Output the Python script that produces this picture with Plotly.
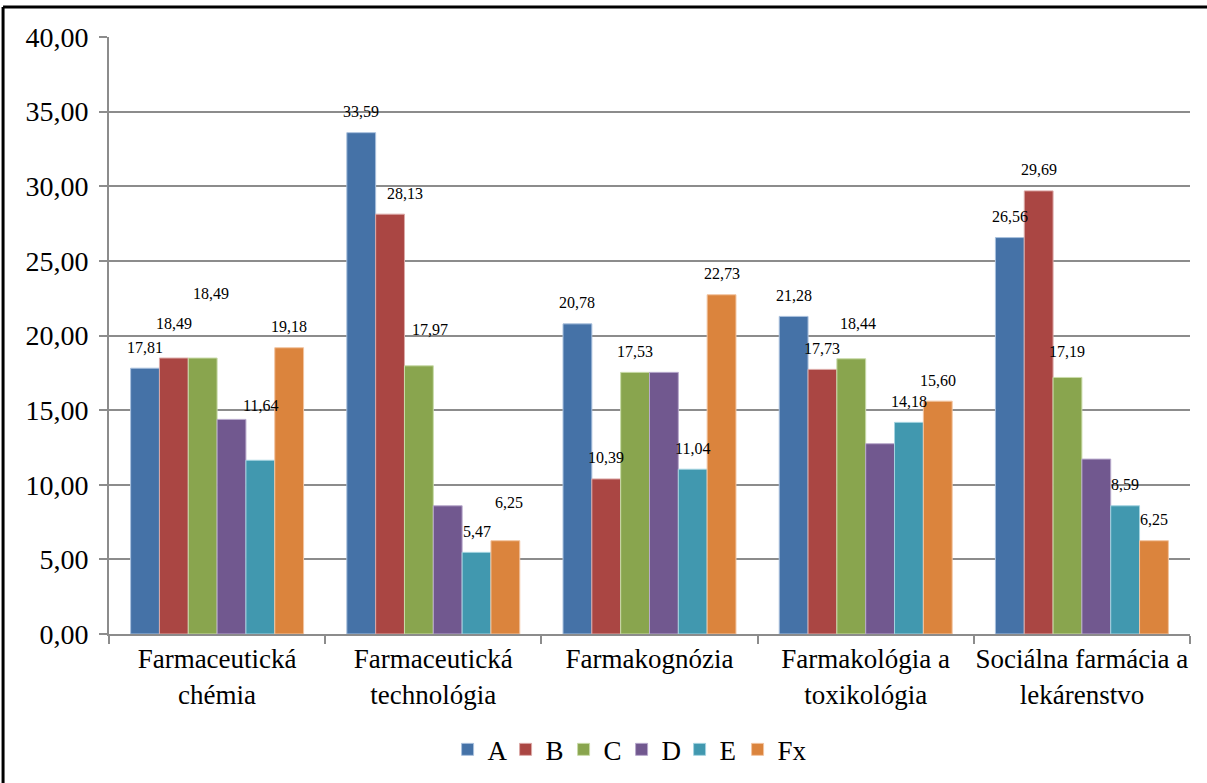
import plotly.graph_objects as go

categories = ["Farmaceutická<br>chémia", "Farmaceutická<br>technológia", "Farmakognózia",
              "Farmakológia a<br>toxikológia", "Sociálna farmácia a<br>lekárenstvo"]
series_names = ["A", "B", "C", "D", "E", "Fx"]

A = [17.81, 33.59, 20.78, 21.28, 26.56]
B = [18.49, 28.13, 10.39, 17.73, 29.69]
C = [18.49, 17.97, 17.53, 18.44, 17.19]
D = [14.38, 8.59, 17.53, 12.75, 11.72]
E = [11.64, 5.47, 11.04, 14.18, 8.59]
Fx = [19.18, 6.25, 22.73, 15.60, 6.25]
series_values = [A, B, C, D, E, Fx]
# series D carries no data labels in the original
show_labels = [True, True, True, False, True, True]

colors = ["#4572A7", "#AA4643", "#89A54E", "#71588F", "#4198AF", "#DB843D"]
line_colors = ["#a9c0dd", "#dca9a7", "#c9dba9", "#b8a9cc", "#a4d3e0", "#f2c4a0"]

# label nudges (category index, series index) -> (dx in category units, extra px up)
nudges = {(0, 1): (0, 14), (0, 2): (0.04, 44), (0, 4): (0, 34),
          (1, 1): (0.07, 0), (1, 2): (0.05, 15), (1, 5): (0.015, 17),
          (3, 2): (0.03, 14), (4, 2): (0, 5)}

FONT = "Times New Roman, Liberation Serif, serif"

fig = go.Figure()
for j, name in enumerate(series_names):
    fig.add_trace(go.Bar(
        x=categories, y=series_values[j], name=name,
        marker=dict(color=colors[j], line=dict(color=line_colors[j], width=1)),
    ))
# invisible spacer entry so the last legend text is not clipped by the compact entry width
fig.add_trace(go.Scatter(x=[None], y=[None], name=" ", mode="markers",
                         marker=dict(color="rgba(0,0,0,0)"), hoverinfo="skip"))

n = len(series_names)
w = 0.8 / n
for j in range(n):
    if not show_labels[j]:
        continue
    for i, v in enumerate(series_values[j]):
        dx, dy = nudges.get((i, j), (0, 0))
        fig.add_annotation(
            x=i + (j - (n - 1) / 2) * w + dx, y=v, xref="x", yref="y",
            text=f"{v:.2f}".replace(".", ","), showarrow=False,
            yshift=21 + dy, font=dict(family=FONT, size=16, color="black"),
        )

# outer chart frame (cut at the picture edges)
fig.add_shape(type="line", xref="paper", yref="paper", x0=-0.098, x1=-0.098, y0=-0.4, y1=1.0503,
              line=dict(color="black", width=3))
fig.add_shape(type="line", xref="paper", yref="paper", x0=-0.098, x1=1.2, y0=1.0503, y1=1.0503,
              line=dict(color="black", width=3))

fig.update_layout(
    width=1207, height=783,
    margin=dict(l=109, r=17, t=37, b=149, autoexpand=False),
    paper_bgcolor="white", plot_bgcolor="white",
    barmode="group", bargap=0.2, bargroupgap=0,
    separators=", ",
    font=dict(family=FONT, color="black"),
    showlegend=True,
    legend=dict(orientation="h", x=0.501, xanchor="center", y=-0.194, yanchor="middle",
                font=dict(family=FONT, size=27), entrywidth=13, itemwidth=30, tracegroupgap=0),
)
fig.update_yaxes(range=[0, 40], dtick=5, tickformat=".2f", automargin=False,
                 showgrid=True, gridcolor="#8c8c8c", gridwidth=2,
                 showline=True, linecolor="#8c8c8c", linewidth=2,
                 ticks="outside", ticklen=8, tickcolor="#8c8c8c", tickwidth=2,
                 ticklabelstandoff=5,
                 tickfont=dict(family=FONT, size=28), zeroline=False)
fig.update_xaxes(showline=True, linecolor="#8c8c8c", linewidth=2, automargin=False, tickangle=0,
                 ticks="outside", tickson="boundaries", ticklen=8, tickcolor="#8c8c8c", tickwidth=2,
                 tickfont=dict(family=FONT, size=27))

fig.write_html("out.html", config={"displayModeBar": False},
               post_script="document.body.style.margin='0';")
